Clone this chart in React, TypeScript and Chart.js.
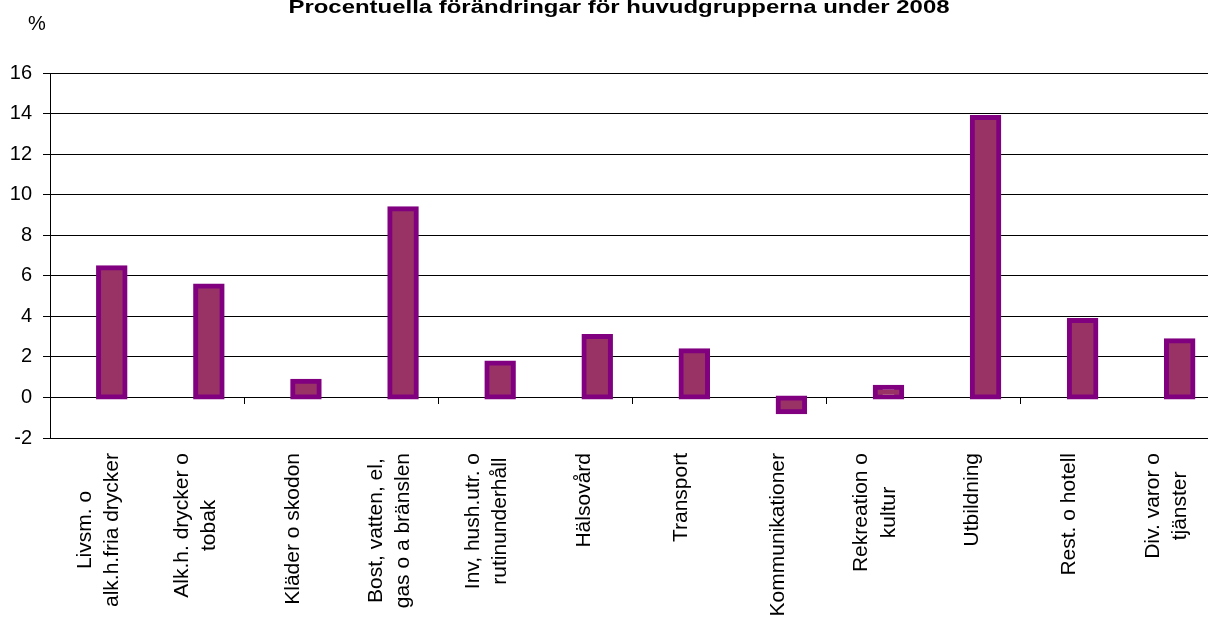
import { useEffect, useRef } from "react";
import { Chart, registerables } from "chart.js";

Chart.register(...registerables);

const chartTitle = "Procentuella förändringar för huvudgrupperna under 2008";
const unitLabel = "%";

const categories: string[][] = [
  ["Livsm. o", "alk.h.fria drycker"],
  ["Alk.h. drycker o", "tobak"],
  ["Kläder o skodon"],
  ["Bost, vatten, el,", "gas o a bränslen"],
  ["Inv, hush.utr. o", "rutinunderhåll"],
  ["Hälsovård"],
  ["Transport"],
  ["Kommunikationer"],
  ["Rekreation o", "kultur"],
  ["Utbildning"],
  ["Rest. o hotell"],
  ["Div. varor o", "tjänster"],
];

const changes: number[] = [6.4, 5.5, 0.8, 9.3, 1.7, 3.0, 2.3, -0.7, 0.5, 13.8, 3.8, 2.8];
const emptySeries: (number | null)[] = categories.map(() => null);

const yMin = -2;
const yMax = 16;
const yStep = 2;

const FONT = '"Liberation Sans", Arial, Helvetica, sans-serif';

const textPlugin = {
  id: "chartTexts",
  afterDraw(chart: any) {
    const ctx: CanvasRenderingContext2D = chart.ctx;
    const xs = chart.scales.x;
    ctx.save();
    ctx.fillStyle = "#000";

    // title
    ctx.font = `bold 18px ${FONT}`;
    ctx.textAlign = "center";
    ctx.textBaseline = "alphabetic";
    ctx.save();
    ctx.translate(619, 13);
    ctx.scale(1.33, 1);
    ctx.fillText(chartTitle, 0, 0);
    ctx.restore();

    // unit
    ctx.font = `20px ${FONT}`;
    ctx.textAlign = "left";
    ctx.fillText(unitLabel, 28, 30);

    // category labels
    ctx.font = `21px ${FONT}`;
    const lh = 27.5;
    const top = xs.top + 15;
    categories.forEach((lines, i) => {
      const x = xs.getPixelForValue(i);
      const maxLen = Math.max(...lines.map((l) => ctx.measureText(l).width));
      ctx.save();
      ctx.translate(x, top + maxLen / 2);
      ctx.rotate(-Math.PI / 2);
      ctx.textAlign = "center";
      ctx.textBaseline = "middle";
      lines.forEach((l, j) => {
        ctx.fillText(l, 0, (j - (lines.length - 1) / 2) * lh);
      });
      ctx.restore();
    });
    ctx.restore();
  },
};

export default function App() {
  const ref = useRef<HTMLCanvasElement | null>(null);

  useEffect(() => {
    if (!ref.current) return;
    const flatLabels = categories.map((c) => c.join(" "));
    const chart = new Chart(ref.current, {
      type: "bar",
      data: {
        labels: flatLabels,
        datasets: [
          {
            label: "",
            data: emptySeries,
            barThickness: 26.5,
          },
          {
            label: "Förändring",
            data: changes,
            backgroundColor: "#993366",
            borderColor: "#800080",
            borderWidth: 5,
            borderSkipped: false,
            inflateAmount: 2.5,
            barThickness: 26.5,
          } as any,
        ],
      },
      options: {
        animation: false,
        responsive: true,
        maintainAspectRatio: false,
        layout: { padding: { top: 73, right: 1, bottom: 0, left: 0 } },
        plugins: {
          legend: { display: false },
          tooltip: { enabled: false },
          title: { display: false },
        },
        scales: {
          x: {
            type: "category",
            offset: true,
            grid: { display: false },
            border: { display: false },
            ticks: { display: false },
            afterFit(s: any) {
              s.height = 180;
            },
          },
          x2: {
            type: "category",
            labels: flatLabels,
            position: { y: 0 } as any,
            offset: true,
            grid: {
              offset: true,
              drawOnChartArea: false,
              drawTicks: true,
              tickLength: 7,
              tickWidth: 1,
              tickColor: (c: any) =>
                c.index > 0 && c.index < 12 && c.index % 2 === 0 ? "#000" : "rgba(0,0,0,0)",
            },
            border: { display: false },
            ticks: { display: false },
          },
          y: {
            min: yMin,
            max: yMax,
            ticks: {
              stepSize: yStep,
              color: "#000",
              font: { size: 20, family: FONT },
              padding: 11,
            },
            grid: { color: "#000", lineWidth: 1, tickLength: 7, drawTicks: true },
            border: { display: true, color: "#000", width: 1 },
            afterFit(s: any) {
              s.width = 50;
            },
          },
        },
      } as any,
      plugins: [textPlugin],
    });
    return () => chart.destroy();
  }, []);

  return (
    <div
      style={{
        position: "fixed",
        left: 0,
        top: 0,
        width: 1208,
        height: 618,
        overflow: "hidden",
        background: "#fff",
      }}
    >
      <div style={{ position: "relative", width: 1216, height: 618 }}>
        <canvas ref={ref} />
      </div>
    </div>
  );
}
